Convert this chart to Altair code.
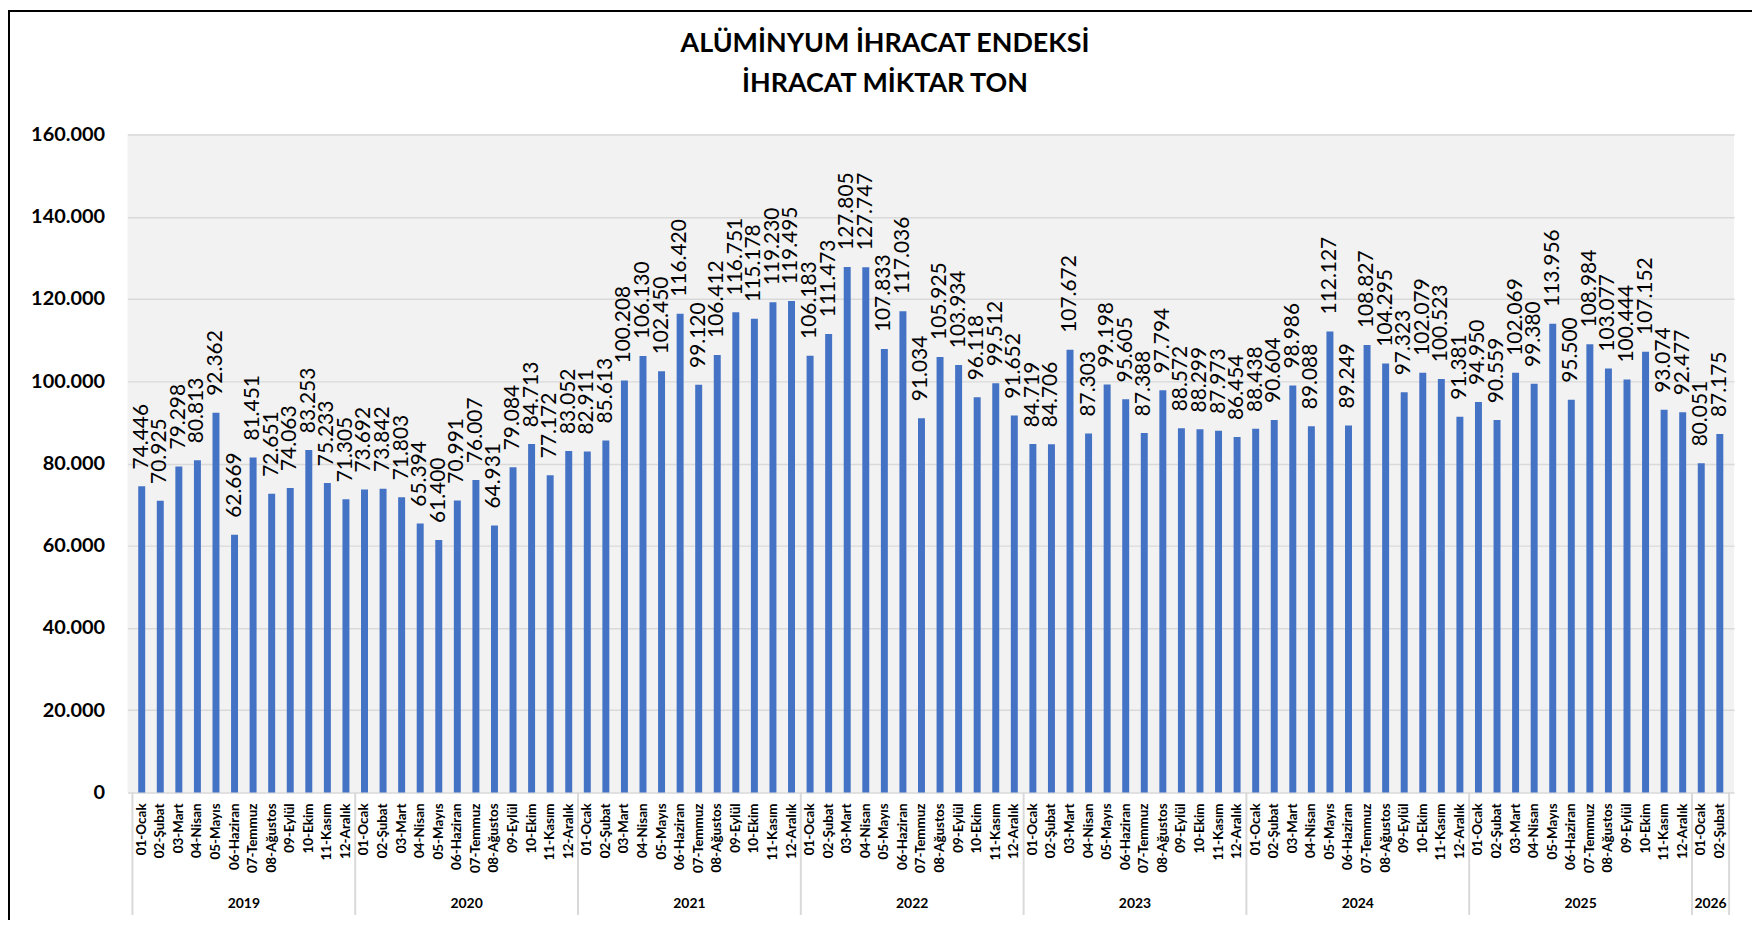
import altair as alt
import pandas as pd

months = ["01-Ocak", "02-Şubat", "03-Mart", "04-Nisan", "05-Mayıs", "06-Haziran",
          "07-Temmuz", "08-Ağustos", "09-Eylül", "10-Ekim", "11-Kasım", "12-Aralık"]

years = ["2019", "2020", "2021", "2022", "2023", "2024", "2025", "2026"]

v2019 = [74446, 70925, 79298, 80813, 92362, 62669, 81451, 72651, 74063, 83253, 75233, 71305]
v2020 = [73692, 73842, 71803, 65394, 61400, 70991, 76007, 64931, 79084, 84713, 77172, 83052]
v2021 = [82911, 85613, 100208, 106130, 102450, 116420, 99120, 106412, 116751, 115178, 119230, 119495]
v2022 = [106183, 111473, 127805, 127747, 107833, 117036, 91034, 105925, 103934, 96118, 99512, 91652]
v2023 = [84719, 84706, 107672, 87303, 99198, 95605, 87388, 97794, 88572, 88299, 87973, 86454]
v2024 = [88438, 90604, 98986, 89088, 112127, 89249, 108827, 104295, 97323, 102079, 100523, 91381]
v2025 = [94950, 90559, 102069, 99380, 113956, 95500, 108984, 103077, 100444, 107152, 93074, 92477]
v2026 = [80051, 87175]

y_ticks = [0, 20000, 40000, 60000, 80000, 100000, 120000, 140000, 160000]

title_lines = ["ALÜMİNYUM İHRACAT ENDEKSİ", "İHRACAT MİKTAR TON"]

series = [v2019, v2020, v2021, v2022, v2023, v2024, v2025, v2026]
rows = []
bounds = [-0.5]
i = 0
for yr, vals in zip(years, series):
    for k, v in enumerate(vals):
        rows.append({"i": i, "year": yr, "month": months[k], "v": v})
        i += 1
    bounds.append(i - 0.5)
df = pd.DataFrame(rows)
df_bounds = pd.DataFrame({"b": bounds})
n = len(df)

W, H = 1614, 661
FONT = "Lato"

xs = alt.Scale(domain=[-0.5, n - 0.5], nice=False, zero=False)
ys = alt.Scale(domain=[0, 160000], nice=False)

yaxis = alt.Axis(
    values=y_ticks,
    labelExpr="replace(format(datum.value, ','), ',', '.')",
    labelFont=FONT, labelFontSize=20, labelFontWeight="bold", labelColor="black",
    labelPadding=23, ticks=False, domain=False, grid=True,
    gridColor="#D9D9D9", gridWidth=1.5, title=None)

base = alt.Chart(df)

bars = base.mark_bar(size=7, color="#4472C4").encode(
    x=alt.X("i:Q", scale=xs, axis=None),
    y=alt.Y("v:Q", scale=ys, axis=yaxis),
)

vlabels = base.transform_calculate(
    lbl="replace(format(datum.v, ','), ',', '.')"
).mark_text(angle=270, align="left", baseline="middle", dx=17,
            font=FONT, fontSize=21, color="black").encode(
    x=alt.X("i:Q", scale=xs, axis=None),
    y=alt.Y("v:Q", scale=ys, axis=yaxis),
    text="lbl:N",
)

mlabels = base.mark_text(angle=270, align="right", baseline="middle",
                         font=FONT, fontSize=13.5, fontWeight="bold", color="black").encode(
    x=alt.X("i:Q", scale=xs, axis=None),
    y=alt.value(H + 11),
    text="month:N",
)

ylabels = base.transform_aggregate(c="mean(i)", groupby=["year"]).mark_text(
    baseline="alphabetic", align="center", font=FONT, fontSize=14,
    fontWeight="bold", color="black").encode(
    x=alt.X("c:Q", scale=xs, axis=None),
    y=alt.value(910 - 133),
    text="year:N",
)

seps = alt.Chart(df_bounds).mark_rule(color="#D9D9D9", strokeWidth=2).encode(
    x=alt.X("b:Q", scale=xs, axis=None),
    y=alt.value(H),
    y2=alt.value(917 - 133),
)

tdf = pd.DataFrame({"t": title_lines, "row": [0, 1]})
t1 = alt.Chart(tdf).transform_filter("datum.row == 0").mark_text(
    font=FONT, fontSize=27, fontWeight="bold", color="black",
    baseline="middle", align="center").encode(
    x=alt.value(889 - 128), y=alt.value(42 - 133), text="t:N")
t2 = alt.Chart(tdf).transform_filter("datum.row == 1").mark_text(
    font=FONT, fontSize=27, fontWeight="bold", color="black",
    baseline="middle", align="center").encode(
    x=alt.value(889 - 128), y=alt.value(82 - 133), text="t:N")

one = alt.Chart(pd.DataFrame({"a": [0]}))
frame_left = one.mark_rule(color="black", strokeWidth=2).encode(
    x=alt.value(9 - 128), y=alt.value(8 - 133), y2=alt.value(H + 140))
frame_top = one.mark_rule(color="black", strokeWidth=2).encode(
    x=alt.value(9 - 128), x2=alt.value(W + 20), y=alt.value(9 - 133))

chart = alt.layer(
    bars, seps, vlabels, mlabels, ylabels, t1, t2, frame_left, frame_top
).properties(
    width=W, height=H,
    autosize=alt.AutoSizeParams(type="none"),
    padding={"left": 120, "top": 125, "right": 18, "bottom": 126},
    background="white",
).configure_view(fill="#F2F2F2", strokeWidth=0)

chart.save("out.html", embed_options={"renderer": "svg", "actions": False})
